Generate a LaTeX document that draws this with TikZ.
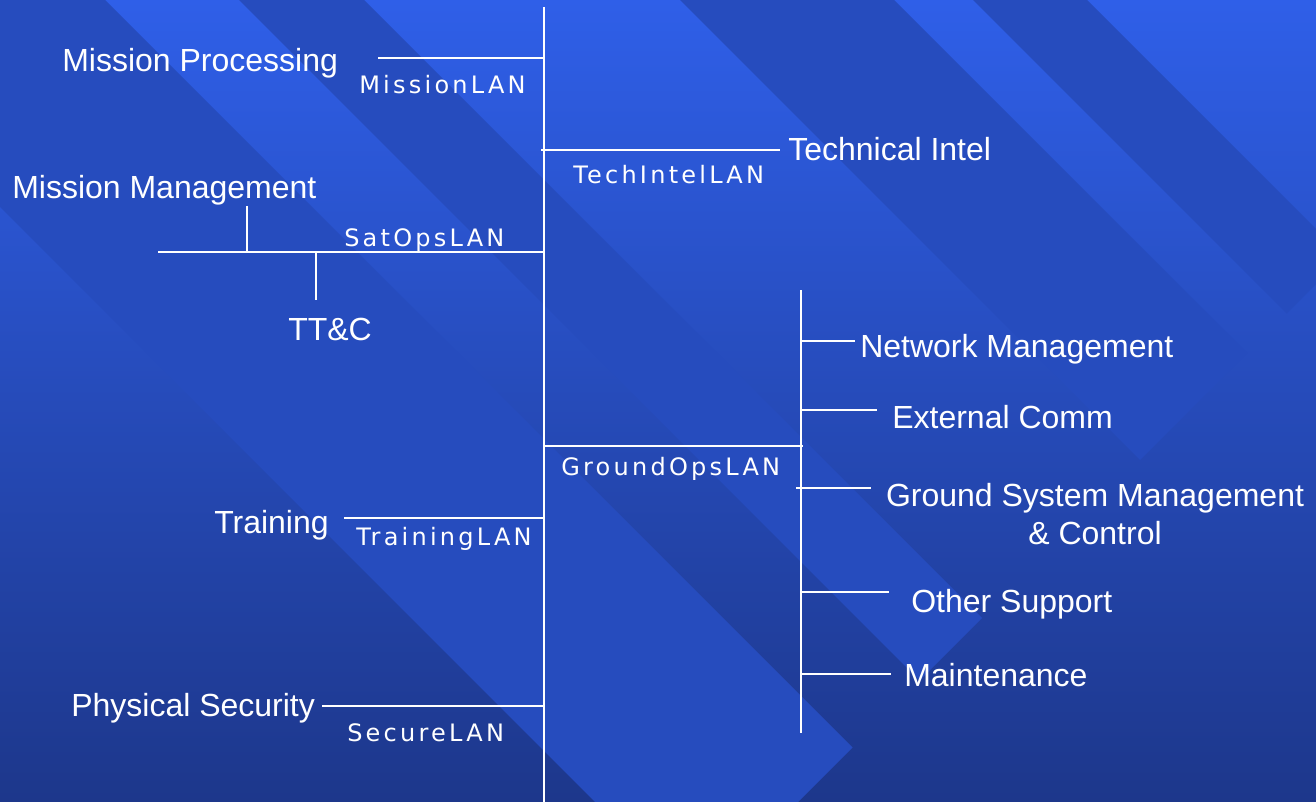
\documentclass[tikz,border=0pt]{standalone}
\usepackage{fontspec}
\setmainfont{Liberation Sans}
\newfontfamily\lanfont[LetterSpace=13.5]{DejaVu Sans}
\definecolor{bgtop}{HTML}{2F5FE8}
\definecolor{bgbot}{HTML}{1D378B}
\definecolor{bandcol}{HTML}{264CBE}
\tikzset{
  bus/.style={draw=white, line width=1.5pt},
  mainlbl/.style={text=white, font=\fontsize{24}{28.5}\selectfont, inner sep=0pt, anchor=base west},
  lanlbl/.style={text=white, font=\lanfont\fontsize{18}{21}\selectfont, inner sep=0pt, anchor=base west},
  stripe/.style={fill=bandcol, draw=none}
}
\begin{document}
\begin{tikzpicture}[x=0.75pt, y=-0.75pt]
\useasboundingbox (0,0) rectangle (1316,802);
% background
\shade[top color=bgtop, bottom color=bgbot] (0,0) rectangle (1316,802);
\begin{scope}
  \clip (0,0) rectangle (1316,802);
  \fill[stripe] (-303.5,-96.5) -- (696.5,903.5) -- (852.5,747.5) -- (-147.5,-252.5) -- cycle;
  \fill[stripe] (-80.5,-319.5) -- (919.5,680.5) -- (982,618) -- (-18,-382) -- cycle;
  \fill[stripe] (140,-540) -- (1140,460) -- (1247,353) -- (247,-647) -- cycle;
  \fill[stripe] (286.5,-686.5) -- (1286.5,313.5) -- (1343.5,256.5) -- (343.5,-743.5) -- cycle;
\end{scope}

% coordinates of the buses
\coordinate (mbTop) at (544,7);
\coordinate (mbBot) at (544,802);
\coordinate (mpL) at (378,58);   \coordinate (mpJ) at (544,58);
\coordinate (tiL) at (541,150);  \coordinate (tiR) at (780,150);
\coordinate (soL) at (158,252);  \coordinate (soJ) at (544,252);
\coordinate (mmT) at (247,206);  \coordinate (mmB) at (247,252);
\coordinate (ttT) at (316,252);  \coordinate (ttB) at (316,300);
\coordinate (goJ) at (544,446);  \coordinate (goR) at (803,446);
\coordinate (sbT) at (801,290);  \coordinate (sbB) at (801,733);
\coordinate (nmJ) at (801,341);  \coordinate (nmR) at (855,341);
\coordinate (ecJ) at (801,410);  \coordinate (ecR) at (877,410);
\coordinate (gsJ) at (796,488);  \coordinate (gsR) at (871,488);
\coordinate (osJ) at (801,592);  \coordinate (osR) at (889,592);
\coordinate (mtJ) at (801,674);  \coordinate (mtR) at (891,674);
\coordinate (trL) at (344,518);  \coordinate (trJ) at (544,518);
\coordinate (seL) at (322,706);  \coordinate (seJ) at (544,706);

% buses
\draw[bus] (mbTop) -- (mbBot);
\draw[bus] (mpL) -- (mpJ);
\draw[bus] (tiL) -- (tiR);
\draw[bus] (soL) -- (soJ);
\draw[bus] (mmT) -- (mmB);
\draw[bus] (ttT) -- (ttB);
\draw[bus] (goJ) -- (goR);
\draw[bus] (sbT) -- (sbB);
\draw[bus] (nmJ) -- (nmR);
\draw[bus] (ecJ) -- (ecR);
\draw[bus] (gsJ) -- (gsR);
\draw[bus] (osJ) -- (osR);
\draw[bus] (mtJ) -- (mtR);
\draw[bus] (trL) -- (trJ);
\draw[bus] (seL) -- (seJ);

% labels
\node[mainlbl] (mp) at (62,72) {Mission Processing};
\node[lanlbl] (mpLAN) at (359,94) {MissionLAN};
\node[mainlbl] (ti) at (788,161) {Technical Intel};
\node[lanlbl] (tiLAN) at (573,184) {TechIntelLAN};
\node[mainlbl] (mm) at (12,199) {Mission Management};
\node[lanlbl] (soLAN) at (344,247) {SatOpsLAN};
\node[mainlbl] (tt) at (288,340) {TT\&C};
\node[lanlbl] (goLAN) at (561,475) {GroundOpsLAN};
\node[mainlbl] (nm) at (860,357) {Network Management};
\node[mainlbl] (ec) at (892,428) {External Comm};
\node[text=white, font=\fontsize{24}{28.5}\selectfont, inner sep=0pt, align=center, anchor=center] (gs) at (1095,514) {Ground System Management\\\& Control};
\node[mainlbl] (os) at (911,612) {Other Support};
\node[mainlbl] (mt) at (904,686) {Maintenance};
\node[mainlbl] (tr) at (214,533) {Training};
\node[lanlbl] (trLAN) at (356,545) {TrainingLAN};
\node[mainlbl] (ps) at (71,716) {Physical Security};
\node[lanlbl] (seLAN) at (347,741) {SecureLAN};
\end{tikzpicture}
\end{document}
